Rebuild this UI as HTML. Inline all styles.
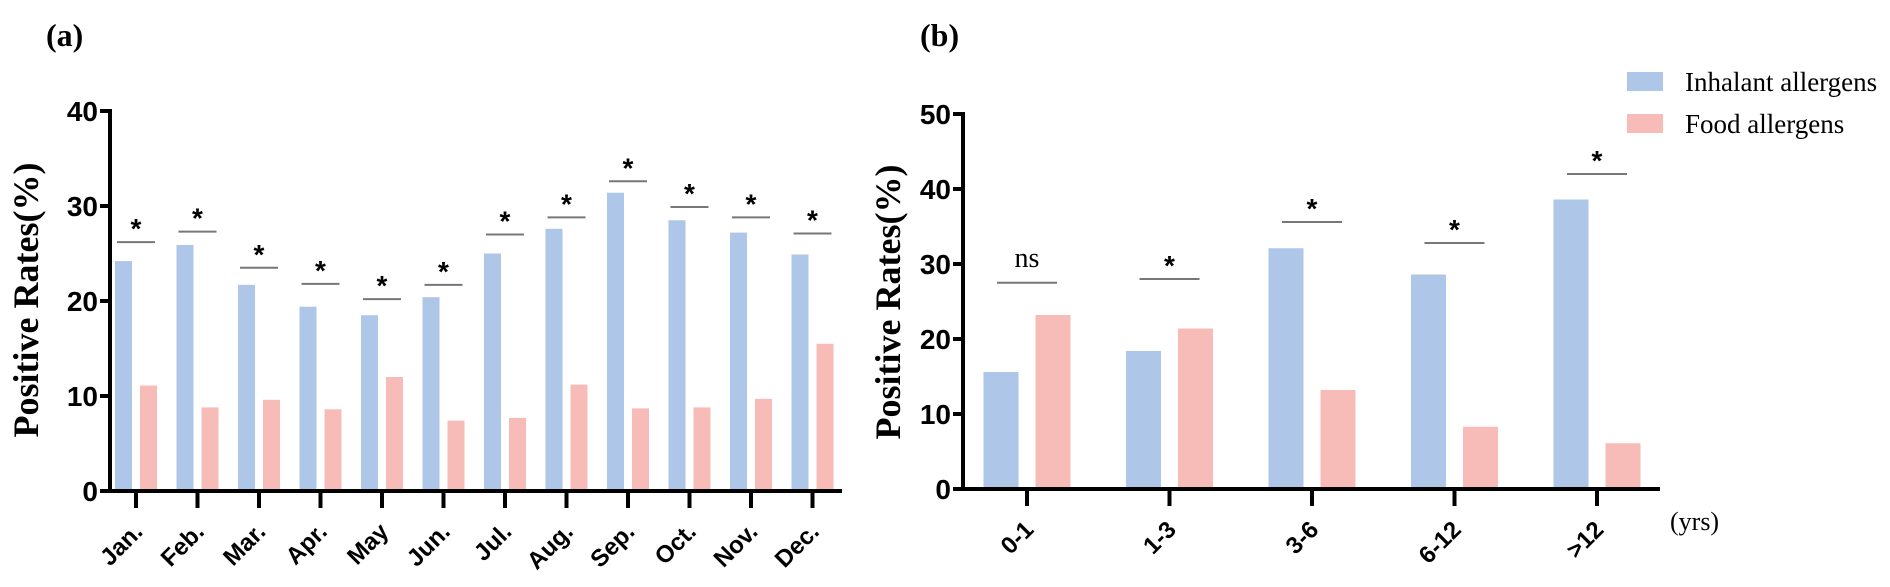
<!DOCTYPE html>
<html><head><meta charset="utf-8"><style>
html,body{margin:0;padding:0;background:#fff;}
svg{display:block;}
.tick{font-family:"Liberation Sans",sans-serif;font-weight:bold;font-size:28px;fill:#000;}
.cat{font-family:"Liberation Sans",sans-serif;font-weight:bold;font-size:24px;fill:#000;}
.serif{font-family:"Liberation Serif",serif;fill:#000;}
</style></head><body>
<svg id="chart" width="1890" height="587" viewBox="0 0 1890 587" xmlns="http://www.w3.org/2000/svg">
<text x="46" y="46" class="serif" font-size="32" font-weight="bold">(a)</text>
<text x="920" y="46" class="serif" font-size="32" font-weight="bold">(b)</text>
<text transform="translate(38,300) rotate(-90)" text-anchor="middle" class="serif" font-size="36" font-weight="bold">Positive Rates(%)</text>
<text transform="translate(900,302) rotate(-90)" text-anchor="middle" class="serif" font-size="36" font-weight="bold">Positive Rates(%)</text>
<g>
<rect x="1627" y="72" width="36" height="19" fill="#aec6e8"/>
<text x="1685" y="91" class="serif" font-size="27">Inhalant allergens</text>
<rect x="1627" y="114" width="36" height="19" fill="#f7bcb8"/>
<text x="1685" y="133" class="serif" font-size="27">Food allergens</text>
</g>
<text x="1670" y="530" class="serif" font-size="26">(yrs)</text>
<g id="ga"></g><g id="gb"></g>
</svg>
<script>
const months=["Jan.","Feb.","Mar.","Apr.","May","Jun.","Jul.","Aug.","Sep.","Oct.","Nov.","Dec."];
const inhalantA=[24.2,25.9,21.7,19.4,18.5,20.4,25.0,27.6,31.4,28.5,27.2,24.9];
const foodA=[11.1,8.8,9.6,8.6,12.0,7.4,7.7,11.2,8.7,8.8,9.7,15.5];
const sigA=[26.2,27.3,23.5,21.8,20.2,21.7,27.0,28.8,32.6,29.9,28.8,27.1];
const sigLabelA=["*","*","*","*","*","*","*","*","*","*","*","*"];
const ticksA=[0,10,20,30,40];
const ages=["0-1","1-3","3-6","6-12",">12"];
const inhalantB=[15.6,18.4,32.1,28.6,38.6];
const foodB=[23.2,21.4,13.2,8.3,6.1];
const sigB=[27.5,28.0,35.6,32.8,42.0];
const sigLabelB=["ns","*","*","*","*"];
const ticksB=[0,10,20,30,40,50];
const NS="http://www.w3.org/2000/svg";
function mk(parent,tag,attrs,text){const e=document.createElementNS(NS,tag);for(const k in attrs)e.setAttribute(k,attrs[k]);if(text!==undefined)e.textContent=text;parent.appendChild(e);return e;}
function panel(g,cfg){
  const y=v=>cfg.y0-(v-0)*(cfg.y0-cfg.yTop)/cfg.max;
  const x=i=>cfg.x0+i*cfg.step;
  cfg.inh.forEach((v,i)=>{
    const r=mk(g,"rect",{x:x(i)-cfg.off-cfg.bw/2,y:y(v),width:cfg.bw,height:cfg.y0-y(v),fill:"#aec6e8"});
    
    
  });
  cfg.food.forEach((v,i)=>{
    const r=mk(g,"rect",{x:x(i)+cfg.off-cfg.bw/2,y:y(v),width:cfg.bw,height:cfg.y0-y(v),fill:"#f7bcb8"});
    
    
  });
  cfg.sig.forEach((v,i)=>{
    const l=mk(g,"line",{x1:x(i)-cfg.sw/2,x2:x(i)+cfg.sw/2,y1:y(v),y2:y(v),stroke:"#777",'stroke-width':2});
    
    
    const lab=cfg.sigLab[i];
    const t=lab==="ns"?mk(g,"text",{x:x(i),y:y(v)-16,'text-anchor':'middle','class':'serif','font-size':28},lab)
      :mk(g,"text",{x:x(i),y:y(v)-4,'text-anchor':'middle','class':'tick','font-size':36},lab);
    
    
  });
  const ya=mk(g,"line",{x1:cfg.axX,x2:cfg.axX,y1:cfg.yTop-2,y2:cfg.y0+2,stroke:"#000",'stroke-width':4});
  
  
  const xa=mk(g,"line",{x1:cfg.axX-8,x2:cfg.axEnd,y1:cfg.y0,y2:cfg.y0,stroke:"#000",'stroke-width':4});
  
  
  cfg.ticks.forEach(v=>{
    mk(g,"line",{x1:cfg.axX-10,x2:cfg.axX,y1:y(v),y2:y(v),stroke:"#000",'stroke-width':4});
    const t=mk(g,"text",{x:cfg.axX-12,y:y(v)+10,'text-anchor':'end','class':'tick'},v);
    
    
  });
  cfg.cats.forEach((c,i)=>{
    mk(g,"line",{x1:x(i),x2:x(i),y1:cfg.y0,y2:cfg.y0+17,stroke:"#000",'stroke-width':4});
    const t=mk(g,"text",{transform:`translate(${x(i)+8},${cfg.y0+42}) rotate(-45)`,'text-anchor':'end','class':'cat'},c);
    
    
  });
}
panel(document.getElementById('ga'),{id:'a',x0:136,step:61.5,y0:491,yTop:111,max:40,bw:17,off:12.5,sw:38,
  axX:110,axEnd:842,inh:inhalantA,food:foodA,sig:sigA,sigLab:sigLabelA,ticks:ticksA,cats:months});
panel(document.getElementById('gb'),{id:'b',x0:1027,step:142.5,y0:489,yTop:114,max:50,bw:35,off:26,sw:60,
  axX:963,axEnd:1660,inh:inhalantB,food:foodB,sig:sigB,sigLab:sigLabelB,ticks:ticksB,cats:ages});
</script>
</body></html>
